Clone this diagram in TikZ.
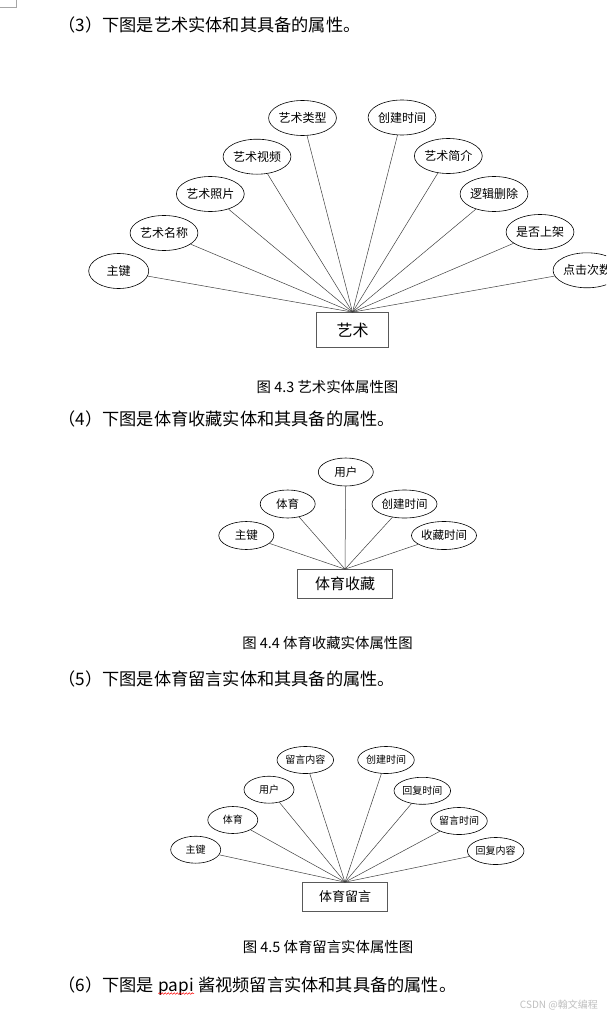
\documentclass[tikz,border=0pt]{standalone}
\usepackage{fontspec}
\setmainfont{Noto Sans CJK SC}
\usetikzlibrary{shapes.geometric,positioning,decorations.pathmorphing}
\tikzset{%
	attr/.style     = {draw, ellipse, line width=0.6pt, inner sep=0pt,
		minimum width=60pt, minimum height=35pt, font=\fontsize{12}{12}\selectfont}, % Attribute
	attrb/.style    = {attr, minimum width=55pt, minimum height=28pt, font=\fontsize{11.5}{12}\selectfont},
	attrc/.style    = {attr, minimum width=50pt, minimum height=27pt, font=\fontsize{10}{10}\selectfont},
	entity/.style   = {draw=black!65, rectangle, line width=0.7pt, inner sep=0pt}, % Entity
	link/.style     = {draw=black!75, line width=0.5pt}, % Connector
	para/.style     = {inner sep=0pt, anchor=west, font=\fontsize{17.2}{18}\selectfont},
	caption/.style  = {inner sep=0pt, font=\fontsize{14.4}{15}\selectfont}
}

\begin{document}
\begin{tikzpicture}[x=1pt,y=-1pt]
	\clip (0,0) rectangle (606,1014);
	\fill[white] (0,0) rectangle (606,1014);
	\draw[black!35, line width=0.6pt] (16,0) -- (16,7.7) -- (0,7.7);

	% (3) art
	\node[para] (p3) at (58.3,24.5) {（3）下图是艺术实体和其具备的属性。};
	\node[entity, minimum width=71.7pt, minimum height=35pt, font=\fontsize{16}{16}\selectfont] (art) at (352.5,330) {艺术};
	\node[attr] (key)    at (118.7,271)   {主键};
	\node[attr] (name)   at (164,233)     {艺术名称};
	\node[attr] (photo)  at (210.3,194)   {艺术照片};
	\node[attr] (video)  at (257,156.7)   {艺术视频};
	\node[attr] (type)   at (302.5,118)   {艺术类型};
	\node[attr] (ctime)  at (402,117.5)   {创建时间};
	\node[attr] (intro)  at (448.3,156)   {艺术简介};
	\node[attr] (del)    at (494,194)     {逻辑删除};
	\node[attr] (shelf)  at (540,232)     {是否上架};
	\node[attr] (clicks) at (587,270.3)   {点击次数};
	\draw[link] (key)    -- (art.north);
	\draw[link] (name)   -- (art.north);
	\draw[link] (photo)  -- (art.north);
	\draw[link] (video)  -- (art.north);
	\draw[link] (type)   -- (art.north);
	\draw[link] (ctime)  -- (art.north);
	\draw[link] (intro)  -- (art.north);
	\draw[link] (del)    -- (art.north);
	\draw[link] (shelf)  -- (art.north);
	\draw[link] (clicks) -- (art.north);
	\node[caption] (cap3) at (327.5,386.5) {图 4.3 艺术实体属性图};

	% (4) sport favourite
	\node[para] (p4) at (58.3,419) {（4）下图是体育收藏实体和其具备的属性。};
	\node[entity, minimum width=95pt, minimum height=29pt, font=\fontsize{15}{15}\selectfont] (fav) at (345,584) {体育收藏};
	\node[attrb] (key2)   at (246.3,535.5) {主键};
	\node[attrb] (sport2) at (287.7,504)   {体育};
	\node[attrb] (user2)  at (345.8,472)   {用户};
	\node[attrb] (ctime2) at (404.5,504)   {创建时间};
	\node[attrb] (ftime2) at (444,535.5)   {收藏时间};
	\draw[link] (key2)   -- (fav.north);
	\draw[link] (sport2) -- (fav.north);
	\draw[link] (user2)  -- (fav.north);
	\draw[link] (ctime2) -- (fav.north);
	\draw[link] (ftime2) -- (fav.north);
	\node[caption] (cap4) at (327.5,642.5) {图 4.4 体育收藏实体属性图};

	% (5) sport message
	\node[para] (p5) at (58.3,679) {（5）下图是体育留言实体和其具备的属性。};
	\node[entity, minimum width=84.7pt, minimum height=29pt, font=\fontsize{13}{13}\selectfont] (msg) at (345,897) {体育留言};
	\node[attrc] (key3)     at (195.7,849.7) {主键};
	\node[attrc] (sport3)   at (232.8,820)   {体育};
	\node[attrc] (user3)    at (269,789.7)   {用户};
	\node[attrc] (content3) at (305.3,760)   {留言内容};
	\node[attrc] (ctime3)   at (386,760)     {创建时间};
	\node[attrc] (rtime3)   at (422.3,790.8) {回复时间};
	\node[attrc] (mtime3)   at (459,821)     {留言时间};
	\node[attrc] (reply3)   at (495.7,851)   {回复内容};
	\draw[link] (key3)     -- (msg.north);
	\draw[link] (sport3)   -- (msg.north);
	\draw[link] (user3)    -- (msg.north);
	\draw[link] (content3) -- (msg.north);
	\draw[link] (ctime3)   -- (msg.north);
	\draw[link] (rtime3)   -- (msg.north);
	\draw[link] (mtime3)   -- (msg.north);
	\draw[link] (reply3)   -- (msg.north);
	\node[caption] (cap5) at (328,946.5) {图 4.5 体育留言实体属性图};

	% (6)
	\node[para] (p6a) at (58.3,985) {（6）下图是};
	\node[para, anchor=base west] (p6b) at ([xshift=4pt]p6a.base east) {papi};
	\node[para, anchor=base west] (p6c) at ([xshift=4pt]p6b.base east) {酱视频留言实体和其具备的属性。};
	\draw[red, line width=0.5pt, decorate, decoration={snake, amplitude=0.8pt, segment length=3pt}]
		([yshift=-2pt]p6b.base west) -- ([yshift=-2pt]p6b.base east);
	\node[inner sep=0pt, anchor=east, text=black!25, font=\fontsize{10}{10}\selectfont] (mark) at (598,1005) {CSDN @翰文编程};
\end{tikzpicture}
\end{document}
